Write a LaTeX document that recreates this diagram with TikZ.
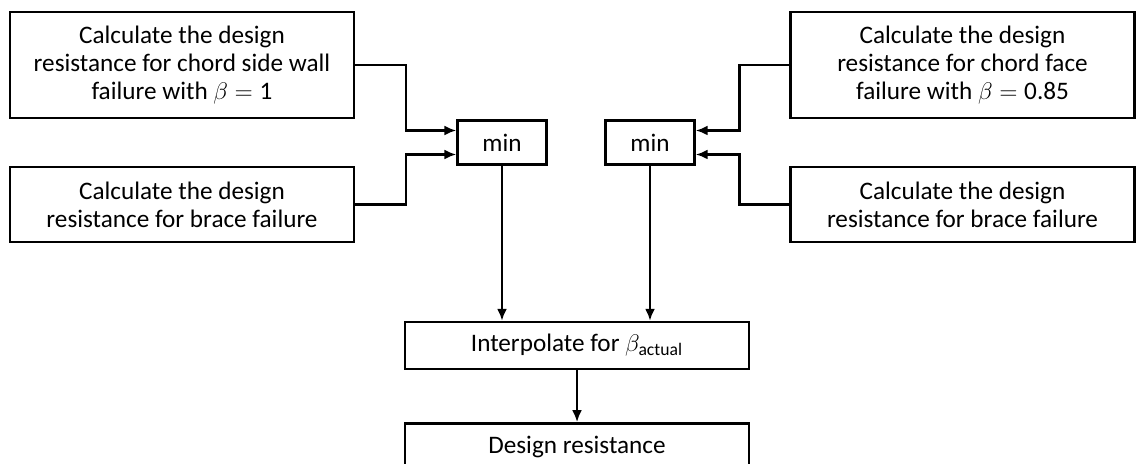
\documentclass[tikz,border=0pt]{standalone}
\usepackage{amsmath}
\usepackage{fontspec}
\setmainfont{Carlito}
\usepackage{tikz}
\usetikzlibrary{positioning,arrows.meta,calc}

\begin{document}
\begin{tikzpicture}[font=\fontsize{12.6}{14}\selectfont,>={Latex[length=6pt,width=5pt]},line width=1.2pt,
  calcbox/.style={draw,minimum width=172pt,align=center,inner sep=2pt},
  minbox/.style={draw,minimum width=44.5pt,minimum height=22pt}]
  \useasboundingbox (0,0) rectangle (571pt,-232pt);
  \node[calcbox,minimum height=53pt] (sidewall) at (91pt,-32.5pt) {Calculate the design\\resistance for chord side wall\\failure with $\beta = \text{1}$};
  \node[calcbox,minimum height=37.5pt] (braceL) at (91pt,-102.25pt) {Calculate the design\\resistance for brace failure};
  \node[calcbox,minimum height=53pt] (face) at (481.25pt,-32.5pt) {Calculate the design\\resistance for chord face\\failure with $\beta = \text{0.85}$};
  \node[calcbox,minimum height=37.5pt] (braceR) at (481.25pt,-102.25pt) {Calculate the design\\resistance for brace failure};
  \node[minbox] (minL) at (251pt,-71.25pt) {min};
  \node[minbox] (minR) at (325pt,-71.25pt) {min};
  \node[calcbox,minimum height=23.5pt] (interp) at (288.5pt,-172.75pt) {Interpolate for $\beta_{\text{actual}}$};
  \node[calcbox,minimum height=23.5pt,below=26pt of interp] (design) {Design resistance};
  % into the two min boxes
  \draw[->] (sidewall.east) -- ++(25.5pt,0) |- ([yshift=6pt]minL.west);
  \draw[->] (braceL.east) -- ++(25.5pt,0) |- ([yshift=-6pt]minL.west);
  \draw[->] (face.west) -- ++(-25pt,0) |- ([yshift=6pt]minR.east);
  \draw[->] (braceR.west) -- ++(-25pt,0) |- ([yshift=-6pt]minR.east);
  % down to the result
  \draw[->] (minL) -- (minL |- interp.north);
  \draw[->] (minR) -- (minR |- interp.north);
  \draw[->] (interp) -- (design);
\end{tikzpicture}
\end{document}
